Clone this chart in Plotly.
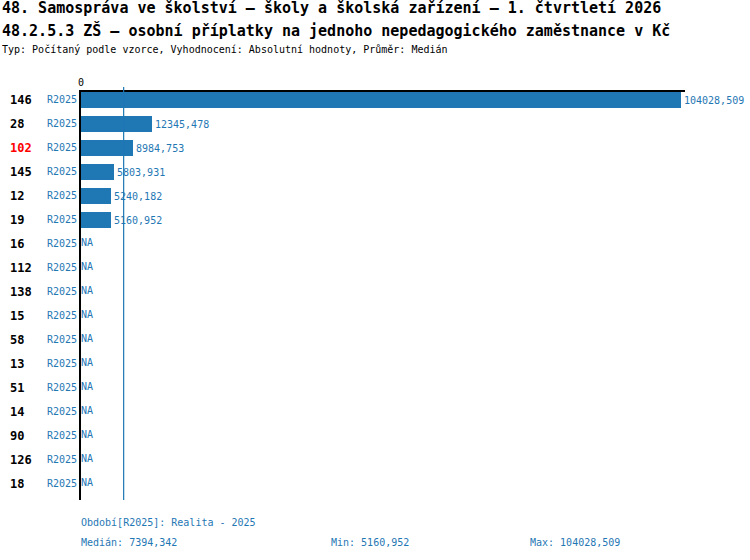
import numpy as np
import plotly.graph_objects as go

# ---- data ----
categories = ["146", "28", "102", "145", "12", "19", "16", "112", "138",
              "15", "58", "13", "51", "14", "90", "126", "18"]
values = [104028.509, 12345.478, 8984.753, 5803.931, 5240.182, 5160.952,
          None, None, None, None, None, None, None, None, None, None, None]
period = "R2025"
period_desc = "Realita - 2025"
highlight = "102"

title1 = "48. Samospráva ve školství – školy a školská zařízení – 1. čtvrtletí 2026"
title2 = "48.2.5.3 ZŠ – osobní příplatky na jednoho nepedagogického zaměstnance v Kč"
title3 = "Typ: Počítaný podle vzorce, Vyhodnocení: Absolutní hodnoty, Průměr: Medián"

BLUE = "#1f77b4"
FONT = "DejaVu Sans Mono"

valid = [v for v in values if v is not None]
median = float(np.median(valid))
vmin = min(valid)
vmax = max(valid)


def cz(v):
    return f"{v:.3f}".replace(".", ",")


bar_cats = [c for c, v in zip(categories, values) if v is not None]
bar_vals = [v for v in values if v is not None]
na_cats = [c for c, v in zip(categories, values) if v is None]

W, H = 750, 560
L, T = 81, 92
R = W - 685
B = H - 500
pw = W - L - R
ph = H - T - B


def px_x(x):
    return (x - L) / pw


def px_y(y):
    return (H - B - y) / ph


fig = go.Figure()
fig.add_trace(go.Bar(
    x=bar_vals, y=bar_cats, orientation="h",
    marker=dict(color=BLUE, line=dict(width=0)),
    width=0.667,
    text=[cz(v) for v in bar_vals],
    textposition="outside",
    textfont=dict(color=BLUE, size=10, family=FONT),
    constraintext="none",
    cliponaxis=False,
    hoverinfo="skip",
))
fig.add_trace(go.Scatter(
    x=[0] * len(na_cats), y=na_cats, mode="text",
    text=["NA"] * len(na_cats), textposition="middle right",
    textfont=dict(color=BLUE, size=10, family=FONT),
    cliponaxis=False, hoverinfo="skip",
))

n = len(categories)
fig.update_layout(
    width=W, height=H,
    margin=dict(l=L, r=R, t=T, b=B, autoexpand=False),
    plot_bgcolor="white", paper_bgcolor="white",
    showlegend=False,
    separators=", ",
    font=dict(family=FONT, color="black"),
    bargap=0,
    xaxis=dict(
        side="top", range=[0, vmax * pw / 600.0],
        showgrid=False, zeroline=False, automargin=False,
        showline=True, linecolor="black", linewidth=2,
        tickvals=[0], ticktext=["0"], ticks="",
        tickfont=dict(size=10, family=FONT, color="black"),
    ),
    yaxis=dict(
        type="category", categoryorder="array", categoryarray=categories,
        range=[n - 1 + 0.667, -0.333], automargin=False,
        showgrid=False, zeroline=False,
        showline=True, linecolor="black", linewidth=2,
        tickvals=categories, ticktext=[period] * n, ticks="",
        tickfont=dict(size=10, family=FONT, color=BLUE),
        ticklabelstandoff=0,
    ),
)

fig.add_shape(type="line", xref="x", yref="paper",
              x0=median, x1=median, y0=0, y1=px_y(87),
              line=dict(color=BLUE, width=1.2), layer="above")

ann = []
for i, c in enumerate(categories):
    ann.append(dict(
        xref="paper", yref="y", x=px_x(8), y=i, xanchor="left", yanchor="middle",
        text=f"<b>{c}</b>", showarrow=False,
        font=dict(size=12, family=FONT, color="red" if c == highlight else "black"),
    ))
ann += [
    dict(xref="paper", yref="paper", x=px_x(0), y=px_y(8), xanchor="left",
         yanchor="middle", text=f"<b>{title1}</b>", showarrow=False,
         font=dict(size=15, family=FONT, color="black")),
    dict(xref="paper", yref="paper", x=px_x(0), y=px_y(30), xanchor="left",
         yanchor="middle", text=f"<b>{title2}</b>", showarrow=False,
         font=dict(size=15, family=FONT, color="black")),
    dict(xref="paper", yref="paper", x=px_x(0), y=px_y(50), xanchor="left",
         yanchor="middle", text=title3, showarrow=False,
         font=dict(size=10, family=FONT, color="black")),
    dict(xref="paper", yref="paper", x=px_x(79), y=px_y(522), xanchor="left",
         yanchor="middle", text=f"Období[{period}]: {period_desc}", showarrow=False,
         font=dict(size=10, family=FONT, color=BLUE)),
    dict(xref="paper", yref="paper", x=px_x(79), y=px_y(542), xanchor="left",
         yanchor="middle", text=f"Medián: {cz(median)}", showarrow=False,
         font=dict(size=10, family=FONT, color=BLUE)),
    dict(xref="paper", yref="paper", x=px_x(329), y=px_y(542), xanchor="left",
         yanchor="middle", text=f"Min: {cz(vmin)}", showarrow=False,
         font=dict(size=10, family=FONT, color=BLUE)),
    dict(xref="paper", yref="paper", x=px_x(528), y=px_y(542), xanchor="left",
         yanchor="middle", text=f"Max: {cz(vmax)}", showarrow=False,
         font=dict(size=10, family=FONT, color=BLUE)),
]
fig.update_layout(annotations=ann)

fig.write_html("out.html", config={"displayModeBar": False},
               post_script="document.body.style.margin='0';")
